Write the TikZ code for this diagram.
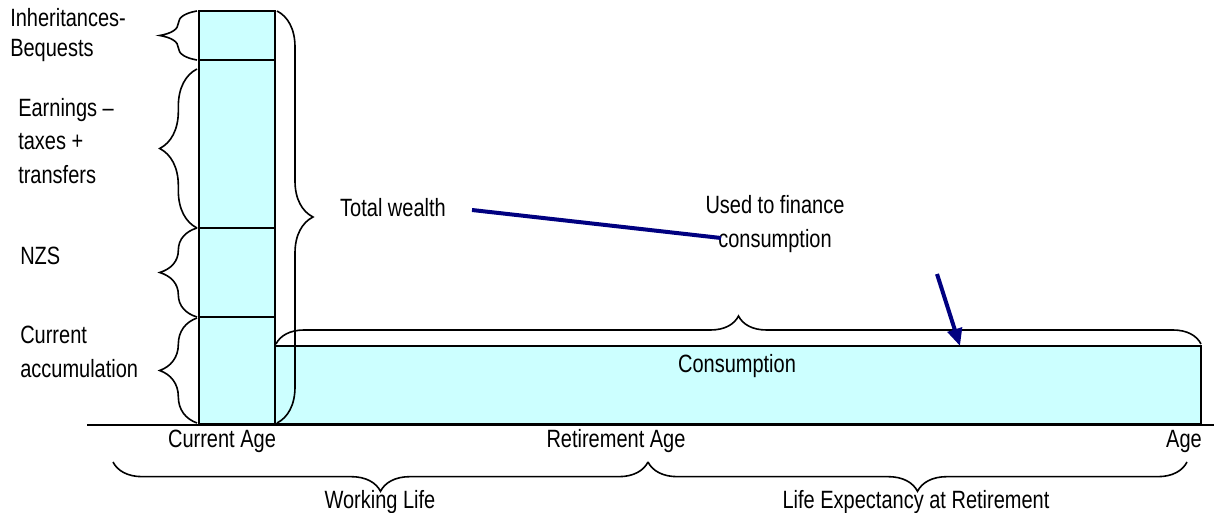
\documentclass[tikz,border=0pt]{standalone}
\usepackage{fontspec}
\setmainfont{Liberation Sans}[FakeStretch=0.8]
\usetikzlibrary{decorations.pathreplacing,arrows.meta}
\definecolor{boxcyan}{RGB}{204,255,255}
\definecolor{mynavy}{RGB}{0,0,128}

\tikzset{
  lbl/.style={font=\fontsize{18.75}{25}\selectfont, inner sep=0pt},
  klammer/.style={decorate, decoration={brace, amplitude=#1}, line width=1.2pt},
}

\begin{document}
\begin{tikzpicture}[x=0.75pt,y=-0.75pt,>=latex]
\useasboundingbox (0,0) rectangle (1214,513);

%Saeule links
\filldraw[fill=boxcyan, line width=1.5pt] (199,11) rectangle (275,424);
\draw[line width=1.5pt] (199,60) to (275,60);
\draw[line width=1.5pt] (199,228) to (275,228);
\draw[line width=1.5pt] (199,317) to (275,317);

%Konsum
\filldraw[fill=boxcyan, line width=1.5pt] (275,346) rectangle (1201,424);
\node[lbl] (cons) at (737,366) {Consumption};

%Achse
\draw[line width=1.5pt] (87,425) to (1214,425);

%Beschriftung links
\node[lbl, anchor=west, align=left, font=\fontsize{18.75}{22.5}\selectfont] (inh) at (10,35) {Inheritances-\\Bequests};
\node[lbl, anchor=west, align=left] (earn) at (18,141) {Earnings --\\taxes +\\transfers};
\node[lbl, anchor=west] (nzs) at (20,256) {NZS};
\node[lbl, anchor=west, align=left] (acc) at (20,352) {Current\\accumulation};

\draw[klammer=28pt] (197,60) to (197,11);
\draw[klammer=28pt] (197,228) to (197,69);
\draw[klammer=28pt] (197,317) to (197,228);
\draw[klammer=28pt] (197,423) to (197,318);

%Gesamtvermoegen
\draw[klammer=27pt] (277,11) to (277,423);
\node[lbl] (tw) at (393,208) {Total wealth};
\node[lbl, align=center] (used) at (775,224) {Used to finance\\consumption};
\draw[klammer=21pt] (276,344) to (1201,344);

\coordinate (ls) at (472,210);
\coordinate (le) at (721,238);
\draw[mynavy, line width=3pt] (ls) to (le);
\coordinate (pa) at (937,274);
\coordinate (pb) at (960,346);
\draw[mynavy, line width=3pt, -{Triangle[length=13pt,width=11pt]}] (pa) to (pb);

%Achse unten
\node[lbl] (cage) at (222,441) {Current Age};
\node[lbl] (rage) at (616,441) {Retirement Age};
\node[lbl] (age) at (1184,441) {Age};
\node[lbl] (wl) at (380,502) {Working Life};
\node[lbl] (lexp) at (916,502) {Life Expectancy at Retirement};

\draw[klammer=22pt] (648,462) to (113,462);
\draw[klammer=22pt] (1187,462) to (648,462);

\end{tikzpicture}
\end{document}
